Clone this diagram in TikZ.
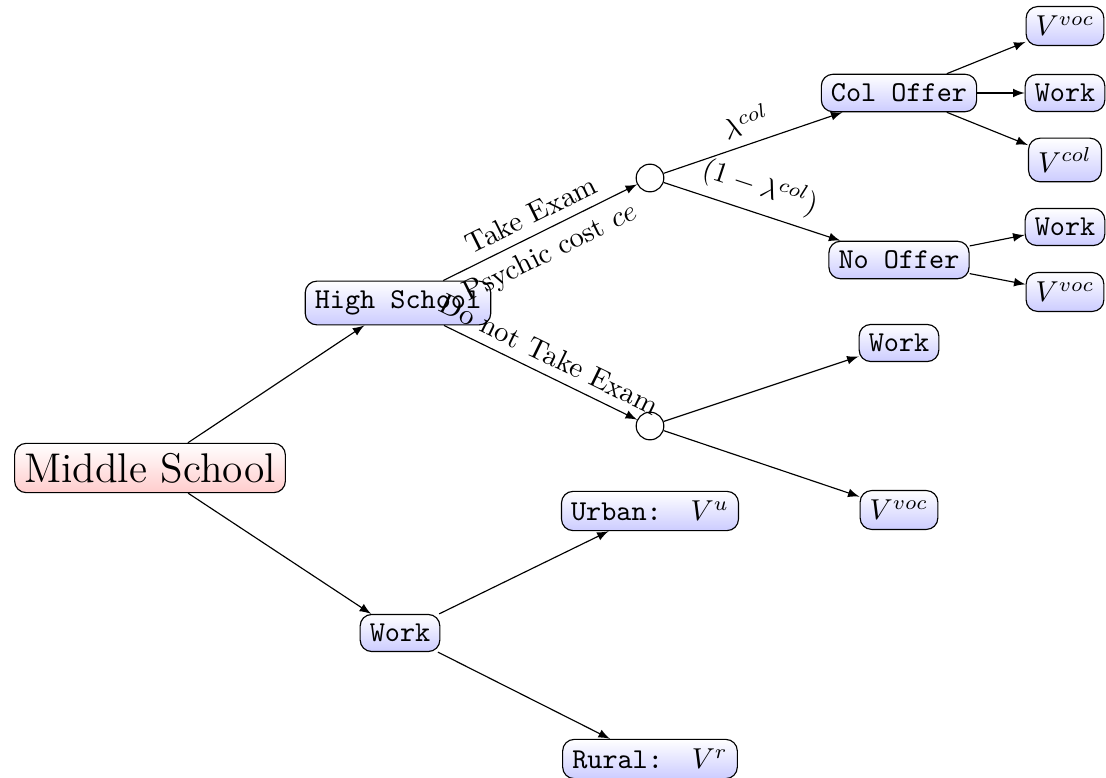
\documentclass[tikz,border=0pt]{standalone}
\usetikzlibrary{arrows,shapes}
\begin{document}
\begin{tikzpicture}[x=0.3472pt,y=-0.3472pt,
  box/.style={draw, rounded corners, top color=white, bottom color=blue!20, font=\ttfamily},
  root/.style={draw, rounded corners, top color=white, bottom color=red!20, font=\Large},
  chance/.style={draw, circle, minimum size=9.6pt, inner sep=0pt},
  arr/.style={-latex}]
\useasboundingbox (0,0) rectangle (1106,778);
% level 0
\node[root] (MS) at (150,468) {Middle School};
% level 1
\node[box] (HS) at (398,303) {High School};
\node[box] (W1) at (400,633) {Work};
% level 2
\node[chance] (C1) at (650,178) {};
\node[chance] (C2) at (650,426) {};
\node[box] (U) at (650,511) {Urban:\quad$V^u$};
\node[box] (R) at (650,759) {Rural:\quad$V^r$};
% level 3
\node[box] (CO) at (899,93) {Col Offer};
\node[box] (NO) at (899,260) {No Offer};
\node[box] (W2) at (899,343) {Work};
\node[box] (V2) at (899,510) {$V^{voc}$};
% level 4
\node[box] (V4a) at (1065,26) {$V^{voc}$};
\node[box] (W4a) at (1065,93) {Work};
\node[box] (V4c) at (1065,160) {$V^{col}$};
\node[box] (W4b) at (1065,227) {Work};
\node[box] (V4b) at (1065,292) {$V^{voc}$};
% edges
\draw[arr] (MS) -- (HS);
\draw[arr] (MS) -- (W1);
\draw[arr] (HS) -- node[above,sloped] {Take Exam} node[below,sloped] {Psychic cost $ce$} (C1);
\draw[arr] (HS) -- node[above,sloped] {Do not Take Exam} (C2);
\draw[arr] (W1) -- (U);
\draw[arr] (W1) -- (R);
\draw[arr] (C1) -- node[above,sloped] {$\lambda^{col}$} (CO);
\draw[arr] (C1) -- node[above,sloped] {$(1-\lambda^{col})$} (NO);
\draw[arr] (C2) -- (W2);
\draw[arr] (C2) -- (V2);
\draw[arr] (CO) -- (V4a);
\draw[arr] (CO) -- (W4a);
\draw[arr] (CO) -- (V4c);
\draw[arr] (NO) -- (W4b);
\draw[arr] (NO) -- (V4b);
\end{tikzpicture}
\end{document}
